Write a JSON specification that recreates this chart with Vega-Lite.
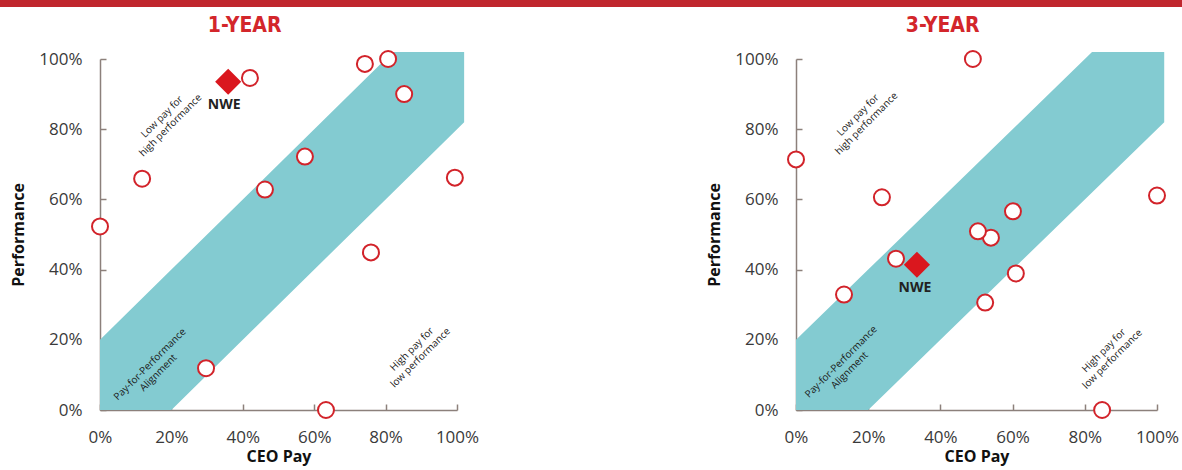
{
  "$schema": "https://vega.github.io/schema/vega-lite/v6.json",
  "padding": {"left": 0, "top": 0, "right": 0, "bottom": 4},
  "background": "white",
  "config": {
    "view": {"stroke": null},
    "font": "Open Sans",
    "axis": {
      "domainColor": "#8c807b",
      "tickColor": "#8c807b",
      "tickSize": -6,
      "domainWidth": 1.5,
      "tickWidth": 1.5,
      "labelFontSize": 17,
      "labelColor": "#3a3a3a",
      "labelFlush": false,
      "titleFontSize": 16,
      "titleFontWeight": "bold",
      "titleColor": "#111111",
      "grid": false
    },
    "axisX": {"labelPadding": 25, "titlePadding": 3},
    "axisY": {"labelPadding": 24, "titlePadding": 12},
    "title": {
      "fontSize": 21,
      "font": "DejaVu Sans Condensed",
      "fontWeight": "bold",
      "color": "#d3262b",
      "offset": 11,
      "anchor": "middle",
      "frame": "bounds"
    }
  },
  "datasets": {
    "band": [
      {"x": 0, "lo": 0, "hi": 0.2},
      {"x": 0.2, "lo": 0, "hi": 0.4},
      {"x": 0.82, "lo": 0.62, "hi": 1.02},
      {"x": 1.02, "lo": 0.82, "hi": 1.02}
    ],
    "p1": [
      {"pay": 0.0, "perf": 0.523, "co": "Peer"},
      {"pay": 0.118, "perf": 0.659, "co": "Peer"},
      {"pay": 0.42, "perf": 0.946, "co": "Peer"},
      {"pay": 0.742, "perf": 0.986, "co": "Peer"},
      {"pay": 0.807, "perf": 1.0, "co": "Peer"},
      {"pay": 0.852, "perf": 0.9, "co": "Peer"},
      {"pay": 0.574, "perf": 0.722, "co": "Peer"},
      {"pay": 0.462, "perf": 0.628, "co": "Peer"},
      {"pay": 0.994, "perf": 0.662, "co": "Peer"},
      {"pay": 0.759, "perf": 0.449, "co": "Peer"},
      {"pay": 0.297, "perf": 0.119, "co": "Peer"},
      {"pay": 0.633, "perf": 0.0, "co": "Peer"},
      {"pay": 0.359, "perf": 0.935, "co": "NWE"}
    ],
    "p2": [
      {"pay": 0.0, "perf": 0.714, "co": "Peer"},
      {"pay": 0.238, "perf": 0.606, "co": "Peer"},
      {"pay": 0.49, "perf": 1.0, "co": "Peer"},
      {"pay": 0.133, "perf": 0.329, "co": "Peer"},
      {"pay": 0.277, "perf": 0.431, "co": "Peer"},
      {"pay": 0.601, "perf": 0.566, "co": "Peer"},
      {"pay": 0.54, "perf": 0.491, "co": "Peer"},
      {"pay": 0.504, "perf": 0.509, "co": "Peer"},
      {"pay": 0.609, "perf": 0.389, "co": "Peer"},
      {"pay": 0.524, "perf": 0.306, "co": "Peer"},
      {"pay": 1.0, "perf": 0.611, "co": "Peer"},
      {"pay": 0.848, "perf": 0.0, "co": "Peer"},
      {"pay": 0.335, "perf": 0.414, "co": "NWE"}
    ],
    "n1": [
      {"pay": 0.174, "perf": 0.835, "label": "Low pay for\nhigh performance"},
      {"pay": 0.14, "perf": 0.13, "label": "Pay-for-Performance\nAlignment"},
      {"pay": 0.874, "perf": 0.173, "label": "High pay for\nlow performance"}
    ],
    "n2": [
      {"pay": 0.172, "perf": 0.84, "label": "Low pay for\nhigh performance"},
      {"pay": 0.125, "perf": 0.137, "label": "Pay-for-Performance\nAlignment"},
      {"pay": 0.853, "perf": 0.169, "label": "High pay for\nlow performance"}
    ]
  },
  "spacing": 8,
  "vconcat": [
    {
      "width": 1182,
      "height": 7,
      "data": {"values": [{"from": -0.0846, "to": 1}]},
      "mark": {"type": "rect", "color": "#c0272d"},
      "encoding": {
        "x": {"field": "from", "type": "quantitative", "scale": {"domain": [0, 1], "nice": false, "zero": false}, "axis": null},
        "x2": {"field": "to"}
      }
    },
    {
      "spacing": 227,
      "hconcat": [
        {
          "width": 357,
          "height": 351,
          "title": "1-YEAR",
          "encoding": {
            "x": {"field": "pay", "type": "quantitative", "scale": {"domain": [0, 1], "nice": false}, "axis": {"title": "CEO Pay", "values": [0, 0.2, 0.4, 0.6, 0.8, 1], "format": ".0%"}},
            "y": {"field": "perf", "type": "quantitative", "scale": {"domain": [0, 1], "nice": false}, "axis": {"title": "Performance", "values": [0, 0.2, 0.4, 0.6, 0.8, 1], "format": ".0%"}}
          },
          "layer": [
            {
              "data": {"name": "band"},
              "mark": {"type": "area", "color": "#83cbd1", "opacity": 1},
              "encoding": {
                "x": {"field": "x", "type": "quantitative"},
                "y": {"field": "hi", "type": "quantitative"},
                "y2": {"field": "lo"}
              }
            },
            {
              "data": {"name": "p1"},
              "transform": [{"filter": "datum.co != 'NWE'"}],
              "mark": {"type": "point", "shape": "circle", "fill": "white", "stroke": "#d2232a", "strokeWidth": 2, "size": 256, "opacity": 1}
            },
            {
              "data": {"name": "p1"},
              "transform": [{"filter": "datum.co == 'NWE'"}],
              "mark": {"type": "point", "shape": "diamond", "filled": true, "color": "#da171e", "size": 680, "opacity": 1}
            },
            {
              "data": {"name": "p1"},
              "transform": [{"filter": "datum.co == 'NWE'"}],
              "mark": {"type": "text", "dy": 23, "dx": -4, "fontSize": 14, "fontWeight": "bold", "color": "#222222"},
              "encoding": {"text": {"field": "co"}}
            },
            {
              "data": {"name": "n1"},
              "mark": {"type": "text", "angle": -45, "fontSize": 10, "lineBreak": "\n", "color": "#1a1a1a", "align": "center", "baseline": "middle"},
              "encoding": {"text": {"field": "label"}}
            }
          ]
        },
        {
          "width": 361,
          "height": 351,
          "title": "3-YEAR",
          "encoding": {
            "x": {"field": "pay", "type": "quantitative", "scale": {"domain": [0, 1], "nice": false}, "axis": {"title": "CEO Pay", "values": [0, 0.2, 0.4, 0.6, 0.8, 1], "format": ".0%"}},
            "y": {"field": "perf", "type": "quantitative", "scale": {"domain": [0, 1], "nice": false}, "axis": {"title": "Performance", "values": [0, 0.2, 0.4, 0.6, 0.8, 1], "format": ".0%"}}
          },
          "layer": [
            {
              "data": {"name": "band"},
              "mark": {"type": "area", "color": "#83cbd1", "opacity": 1},
              "encoding": {
                "x": {"field": "x", "type": "quantitative"},
                "y": {"field": "hi", "type": "quantitative"},
                "y2": {"field": "lo"}
              }
            },
            {
              "data": {"name": "p2"},
              "transform": [{"filter": "datum.co != 'NWE'"}],
              "mark": {"type": "point", "shape": "circle", "fill": "white", "stroke": "#d2232a", "strokeWidth": 2, "size": 256, "opacity": 1}
            },
            {
              "data": {"name": "p2"},
              "transform": [{"filter": "datum.co == 'NWE'"}],
              "mark": {"type": "point", "shape": "diamond", "filled": true, "color": "#da171e", "size": 680, "opacity": 1}
            },
            {
              "data": {"name": "p2"},
              "transform": [{"filter": "datum.co == 'NWE'"}],
              "mark": {"type": "text", "dy": 23, "dx": -2, "fontSize": 14, "fontWeight": "bold", "color": "#222222"},
              "encoding": {"text": {"field": "co"}}
            },
            {
              "data": {"name": "n2"},
              "mark": {"type": "text", "angle": -45, "fontSize": 10, "lineBreak": "\n", "color": "#1a1a1a", "align": "center", "baseline": "middle"},
              "encoding": {"text": {"field": "label"}}
            }
          ]
        }
      ]
    }
  ]
}
